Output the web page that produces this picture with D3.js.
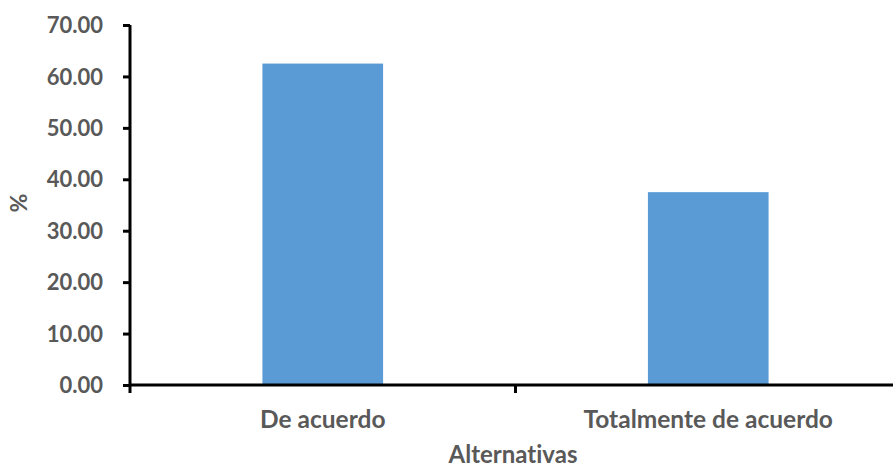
<!DOCTYPE html>
<html><head><meta charset="utf-8">
<script src="https://cdn.jsdelivr.net/npm/d3@7"></script>
<style>body{margin:0;background:#fff}svg text{font-family:Lato,"Open Sans",sans-serif;font-weight:bold;fill:#595959;font-variant-ligatures:none}</style>
</head><body><svg id="c" width="893" height="470"></svg>
<script>
const categories = ["De acuerdo", "Totalmente de acuerdo"];
const values = [62.5, 37.5];
const yTicks = [0, 10, 20, 30, 40, 50, 60, 70];
const xTitle = "Alternativas";
const yTitle = "%";

const svg = d3.select("#c");
const mLeft = 130, mRight = 901, mTop = 25, mBottom = 385;
const x = d3.scaleBand().domain(categories).range([mLeft, mRight]).paddingInner(0.687).paddingOuter(0.3435);
const y = d3.scaleLinear().domain([0, 70]).range([mBottom, mTop]);

svg.selectAll("rect.bar").data(values).join("rect")
  .attr("x", (d, i) => x(categories[i])).attr("width", x.bandwidth())
  .attr("y", d => y(d)).attr("height", d => y(0) - y(d)).attr("fill", "#5B9BD5");

const ya = svg.append("g").attr("transform", `translate(${mLeft},0)`)
  .call(d3.axisLeft(y).tickValues(yTicks).tickFormat(d3.format(".2f")).tickSize(7).tickSizeOuter(0));
ya.select(".domain").attr("stroke", "#000").attr("stroke-width", 3).attr("d", `M0,${mTop}V${mBottom + 8}`);
ya.selectAll(".tick line").attr("stroke", "#000").attr("stroke-width", 3);
ya.selectAll(".tick text").attr("x", -27).style("font-size", "22px").attr("dy", "0.35em");

const xa = svg.append("g").attr("transform", `translate(0,${mBottom})`);
xa.append("line").attr("x1", mLeft).attr("x2", 893).attr("stroke", "#000").attr("stroke-width", 3);
const bounds = [(x(categories[0]) + x.bandwidth() + x(categories[1])) / 2];
xa.selectAll("line.t").data(bounds).join("line").attr("x1", d => d).attr("x2", d => d)
  .attr("y1", 0).attr("y2", 8).attr("stroke", "#000").attr("stroke-width", 3);
xa.selectAll("text").data(categories).join("text")
  .attr("x", d => x(d) + x.bandwidth() / 2).attr("y", 43)
  .attr("text-anchor", "middle").style("font-size", "24.5px").text(d => d);

svg.append("text").attr("x", 513).attr("y", 463).attr("text-anchor", "middle").style("font-size", "24px").text(xTitle);
svg.append("text").attr("transform", "translate(27,203) rotate(-90)").attr("text-anchor", "middle").style("font-size", "23px").text(yTitle);
</script></body></html>
